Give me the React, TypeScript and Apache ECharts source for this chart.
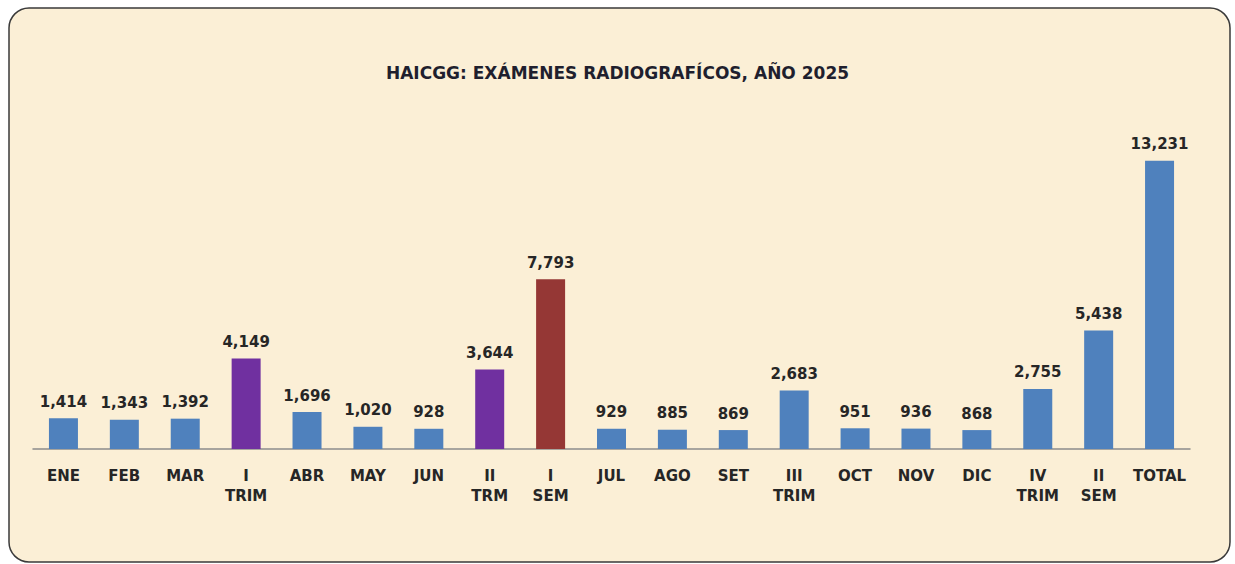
import React, { useEffect, useRef } from "react";
import * as echarts from "echarts";

const categories = [
  "ENE", "FEB", "MAR", "I\nTRIM", "ABR", "MAY", "JUN", "II\nTRM", "I\nSEM",
  "JUL", "AGO", "SET", "III\nTRIM", "OCT", "NOV", "DIC", "IV\nTRIM", "II\nSEM", "TOTAL",
];
const values = [1414, 1343, 1392, 4149, 1696, 1020, 928, 3644, 7793, 929, 885, 869, 2683, 951, 936, 868, 2755, 5438, 13231];
const kinds = ["m", "m", "m", "q", "m", "m", "m", "q", "s", "m", "m", "m", "m", "m", "m", "m", "m", "m", "m"];
const title = "HAICGG: EXÁMENES RADIOGRAFÍCOS, AÑO 2025";

const colorOf: Record<string, string> = { m: "#4F81BD", q: "#7030A0", s: "#953735" };

export default function App() {
  const ref = useRef<HTMLDivElement>(null);
  useEffect(() => {
    if (!ref.current) return;
    const chart = echarts.init(ref.current, null, { renderer: "svg" });
    const font = "'DejaVu Sans', sans-serif";
    chart.setOption({
      animation: false,
      backgroundColor: "#FFFFFF",
      textStyle: { fontFamily: font },
      graphic: [
        {
          type: "rect",
          z: -10,
          shape: { x: 9, y: 8, width: 1221, height: 554, r: 20 },
          style: { fill: "#FBEFD6", stroke: "#3a3a3a", lineWidth: 1.5 },
        },
        {
          type: "text",
          left: "center",
          top: 64,
          style: { text: title, font: `bold 17px ${font}`, fill: "#1F1F2E" },
        },
      ],
      grid: { left: 33, right: 45, top: 144, bottom: 115, containLabel: false },
      xAxis: {
        type: "category",
        data: categories,
        axisLine: { show: true, lineStyle: { color: "#8C8C8C", width: 1.5 } },
        axisTick: { show: false },
        axisLabel: {
          interval: 0,
          margin: 17,
          color: "#262626",
          fontWeight: "bold",
          fontSize: 15,
          lineHeight: 20,
          fontFamily: font,
        },
      },
      yAxis: {
        type: "value",
        min: 0,
        max: 14000,
        show: false,
        splitLine: { show: false },
      },
      series: [
        {
          type: "bar",
          barWidth: 29,
          data: values.map((v, i) => ({ value: v, itemStyle: { color: colorOf[kinds[i]] } })),
          label: {
            show: true,
            position: "top",
            distance: 9,
            color: "#262626",
            fontWeight: "bold",
            fontSize: 15,
            fontFamily: font,
            formatter: (p: any) => Number(p.value).toLocaleString("en-US"),
          },
        },
      ],
    });
    return () => chart.dispose();
  }, []);
  return (
    <div
      ref={ref}
      style={{ position: "fixed", left: 0, top: 0, width: 1235, height: 564 }}
    />
  );
}
